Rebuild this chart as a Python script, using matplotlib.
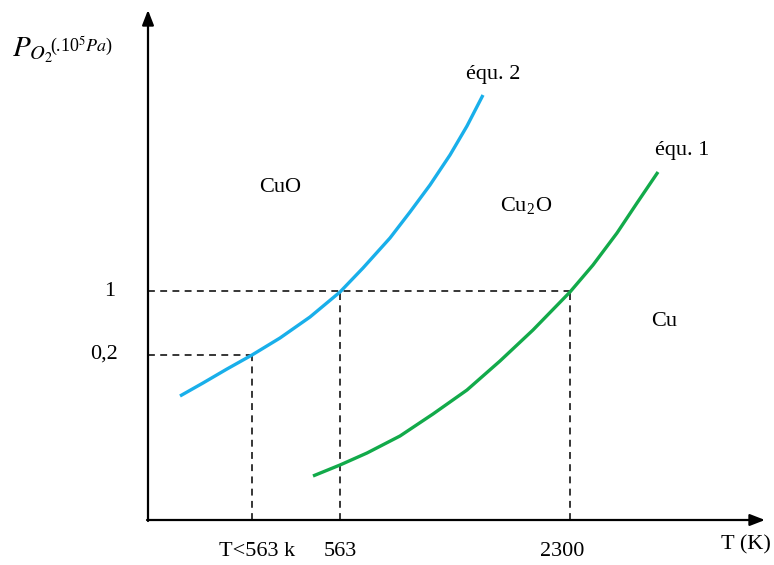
import matplotlib.pyplot as plt

plt.rcParams['font.family'] = ['Liberation Serif', 'DejaVu Serif']
plt.rcParams['mathtext.fontset'] = 'stix'

# schematic coordinates (origin = axes corner)
# équ. 2 : CuO / Cu2O boundary
t_eq2 = [32, 55, 79, 104, 132, 162, 192, 215, 242, 262, 282, 302, 319, 335]
p_eq2 = [124, 137, 151, 165, 182, 203, 228, 252, 282, 308, 335, 365, 394, 425]
# équ. 1 : Cu2O / Cu boundary
t_eq1 = [165, 192, 219, 252, 285, 319, 352, 385, 422, 445, 469, 489, 510]
p_eq1 = [44, 55, 67, 84, 106, 130, 159, 190, 228, 255, 287, 317, 348]

# reference points (T, P) where the guides are drawn
t_low, p_low = 104, 165      # T<563 k , 0,2
t_563, p_one = 192, 229      # 563 , 1
t_2300 = 422                 # 2300

fig = plt.figure(figsize=(7.74, 5.65), dpi=100)
ax = fig.add_axes([0, 0, 1, 1])
ax.set_xlim(-148, 626)
ax.set_ylim(-45, 520)
ax.axis('off')

# axes with arrows
ax.annotate('', xy=(0, 510), xytext=(0, -1),
            arrowprops=dict(arrowstyle='-|>,head_length=0.9,head_width=0.35',
                            color='black', lw=1.6, shrinkA=0, shrinkB=0))
ax.annotate('', xy=(617, 0), xytext=(-1, 0),
            arrowprops=dict(arrowstyle='-|>,head_length=0.9,head_width=0.35',
                            color='black', lw=1.6, shrinkA=0, shrinkB=0))

# dashed guides
dash = dict(color='black', lw=1.1, ls=(0, (4.5, 3.5)))
ax.plot([0, t_2300], [p_one, p_one], **dash)
ax.plot([0, t_low], [p_low, p_low], **dash)
ax.plot([t_low, t_low], [0, p_low], **dash)
ax.plot([t_563, t_563], [0, p_one], **dash)
ax.plot([t_2300, t_2300], [0, p_one], **dash)

# curves
ax.plot(t_eq2, p_eq2, color='#19AFEA', lw=2.4, solid_capstyle='butt', solid_joinstyle='round')
ax.plot(t_eq1, p_eq1, color='#12AA4A', lw=2.4, solid_capstyle='butt', solid_joinstyle='round')

fs = 16
ax.text(-38, p_one, '1', fontsize=fs, ha='center', va='center')
ax.text(-44, p_low + 1, '0,2', fontsize=fs, ha='center', va='center')
ax.text(109, -31, 'T<563 k', fontsize=fs, ha='center', va='center')
ax.text(t_563, -32, '563', fontsize=fs, ha='center', va='center')
ax.text(414, -31, '2300', fontsize=fs, ha='center', va='center')
ax.text(598, -25, 'T (K)', fontsize=fs, ha='center', va='center')

ax.text(132, 332, 'CuO', fontsize=fs, ha='center', va='center')
ax.text(378, 315, r'Cu$_{\mathregular{2}}$O', fontsize=fs, ha='center', va='center')
ax.text(516, 199, 'Cu', fontsize=fs, ha='center', va='center')
ax.text(345, 446, 'équ. 2', fontsize=fs, ha='center', va='center')
ax.text(534, 370, 'équ. 1', fontsize=fs, ha='center', va='center')

ax.text(-136, 470, r'$P_{O_2}$', fontsize=21, ha='left', va='center')
ax.text(-98, 474, r'(.10$^{5}$$\mathit{Pa}$)', fontsize=13, ha='left', va='center')

plt.savefig('out.png', dpi=100)
